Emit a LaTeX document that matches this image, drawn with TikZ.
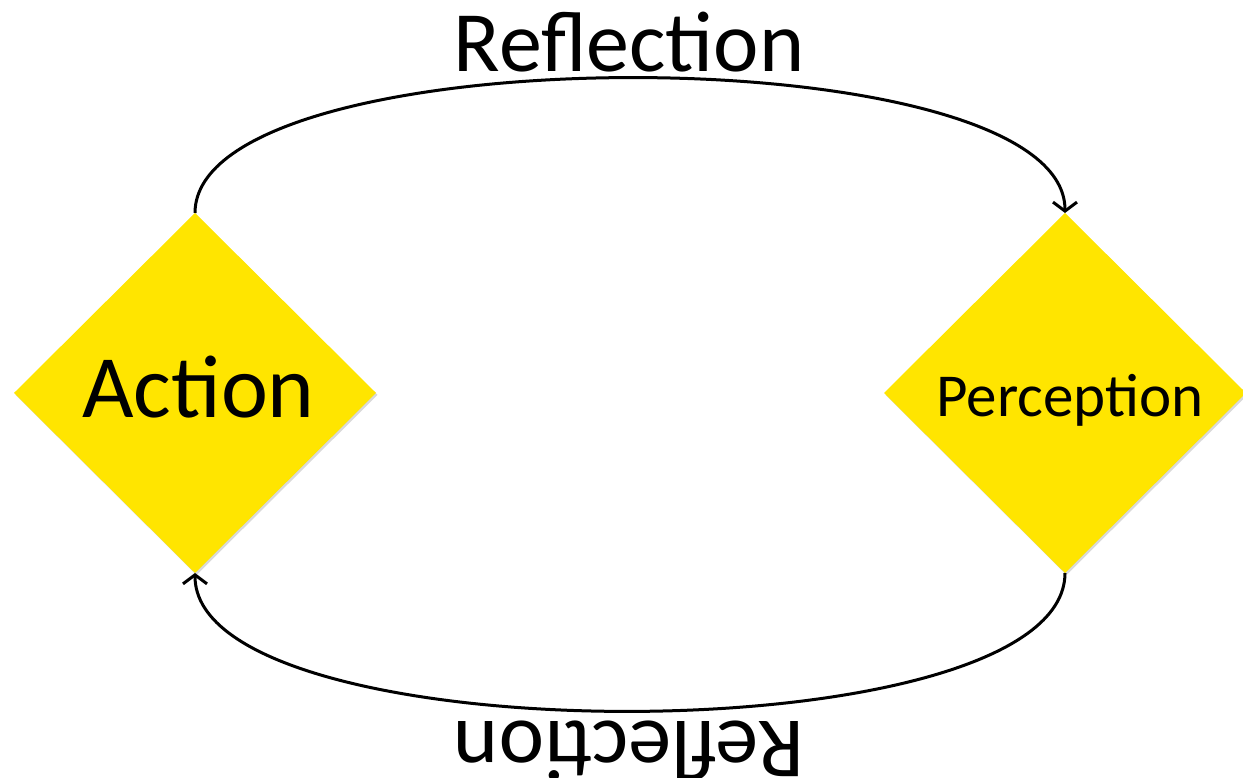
\documentclass[tikz,border=0pt]{standalone}
\usepackage{fontspec}
\setmainfont{Carlito}
\usepackage{tikz}
\usetikzlibrary{shapes.geometric,arrows.meta,positioning,shadows}
\definecolor{cYellow}{RGB}{255,229,0}
\tikzset{
  stagenode/.style={diamond,aspect=1,fill=cYellow,inner sep=0pt,outer sep=0pt,
                    minimum width=362pt,minimum height=360pt,
                    drop shadow={shadow xshift=1.5pt,shadow yshift=-2pt,opacity=0.3}},
  reflabel/.style={font=\fontsize{86pt}{92pt}\selectfont,inner sep=0pt},
  looparr/.style={-{Straight Barb[length=9pt,width=24pt]},line width=3pt,color=black}
}
\begin{document}
\begin{tikzpicture}[x=1pt,y=1pt]
  \useasboundingbox (0,0) rectangle (1243,778);
  \node[stagenode,font=\fontsize{89pt}{94pt}\selectfont,
        text height=50pt,text depth=0pt] (act) at (195,385) {\hspace*{7pt}Action};
  \node[stagenode,right=508pt of act,font=\fontsize{61pt}{66pt}\selectfont,
        text height=60pt,text depth=12pt] (perc) {\hspace*{10pt}Perception};

  \node[reflabel,anchor=base] (reftop) at (629,706) {Reflection};
  \node[reflabel,rotate=180,anchor=base] (refbot) at (629,56) {Reflection};

  \draw[looparr] (act.north) .. controls ++(0,180) and ++(0,180) .. (perc.north);
  \draw[looparr] (perc.south) .. controls ++(0,-184) and ++(0,-184) .. (act.south);
\end{tikzpicture}
\end{document}
